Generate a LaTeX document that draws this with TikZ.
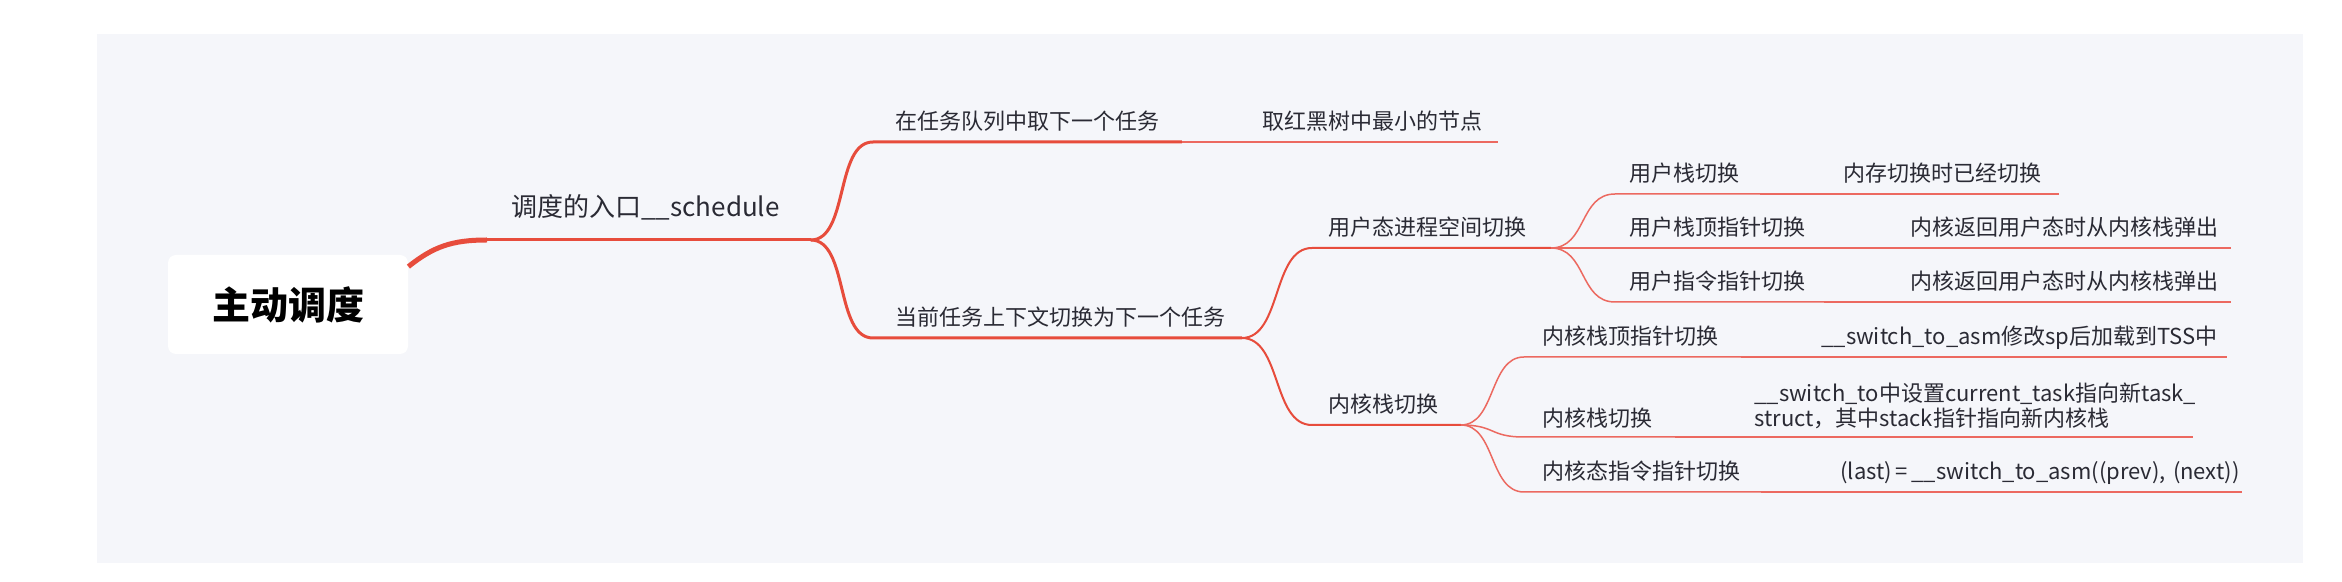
\documentclass[tikz,border=0pt]{standalone}
\usepackage{fontspec}
\setmainfont{Noto Sans CJK SC}[WordSpace=0.7]
\definecolor{mapred}{RGB}{231,76,60}
\definecolor{mapredlight}{RGB}{236,105,96}
\definecolor{mapbg}{RGB}{245,246,250}
\definecolor{maptext}{RGB}{42,42,52}

\begin{document}
\begin{tikzpicture}[
                x=0.5pt, y=-0.5pt,
                topic/.style={anchor=south west, align=left, text=maptext,
                              font=\fontsize{11}{12.5}\selectfont,
                              text height=8pt, text depth=2.5pt, inner ysep=3.3pt},
                line0/.style={draw=mapred, line width=1.5pt},
                line1/.style={draw=mapred, line width=1pt},
                line2/.style={draw=mapredlight, line width=0.75pt}] %

% canvas
\fill[white] (0,0) rectangle (2342,582);
\fill[mapbg] (97,34) rectangle (2303,563);
\useasboundingbox (0,0) rectangle (2342,582);

                    % root
                    \node[fill=white,rounded corners=4pt,minimum width=120pt,minimum height=49.5pt,
                          font=\fontsize{19}{22}\selectfont\bfseries,text=black] (root) at (288,304.5) {主动调度};

                    \node[topic,font=\fontsize{13}{15}\selectfont,inner xsep=12pt,inner ysep=9.1pt,text width=137.5pt] (entry) at (487,240) {调度的入口\_\_schedule};

                    \draw[mapred,line width=2.5pt] ([yshift=-6pt]root.north east) .. controls +(25,-20) and +(-35,0) .. (entry.south west);
                    \draw[line0] (entry.south west) -- (entry.south east);

                    % 1
                    \node[topic,inner xsep=11pt,text width=132pt] (pick) at (873,142) {在任务队列中取下一个任务};
                    \node[topic,inner xsep=7.5pt,text width=110pt] (rbmin) at (1247,142) {取红黑树中最小的节点};

                    \draw[line0] (entry.south east) .. controls +(38,0) and +(-38,0) .. (pick.south west) -- (pick.south east);
                    \draw[line2] (pick.south east) -- (rbmin.south west) -- (rbmin.south east);

                    % 2
                    \node[topic,inner xsep=11pt,text width=162pt] (ctx) at (873,338) {当前任务上下文切换为下一个任务};
                    \draw[line0] (entry.south east) .. controls +(38,0) and +(-38,0) .. (ctx.south west) -- (ctx.south east);

                    \node[topic,inner xsep=8pt,text width=103pt] (user) at (1312,248) {用户态进程空间切换};
                    \node[topic,inner xsep=8pt,text width=58pt] (kstack) at (1312,425) {内核栈切换};

                    \draw[line1] (ctx.south east) .. controls +(40,0) and +(-40,0) .. (user.south west) -- (user.south east);
                    \draw[line1] (ctx.south east) .. controls +(40,0) and +(-40,0) .. (kstack.south west) -- (kstack.south east);

                    % 2a user
                    \node[topic,inner xsep=7pt,text width=58pt] (ustack) at (1615,194) {用户栈切换};
                    \node[topic,inner xsep=7pt,text width=90pt] (usp) at (1615,248) {用户栈顶指针切换};
                    \node[topic,inner xsep=7pt,text width=90pt] (uip) at (1615,302) {用户指令指针切换};

                    \node[topic,inner xsep=7.5pt,text width=100pt] (memsw) at (1828,194) {内存切换时已经切换};
                    \node[topic,inner xsep=5pt,text width=155pt] (retsp) at (1900,248) {内核返回用户态时从内核栈弹出};
                    \node[topic,inner xsep=5pt,text width=155pt] (retip) at (1900,302) {内核返回用户态时从内核栈弹出};

                    \draw[line2] (user.south east) .. controls +(36,0) and +(-36,0) .. (ustack.south west) -- (ustack.south east);
                    \draw[line2] (user.south east) -- (usp.south west) -- (usp.south east);
                    \draw[line2] (user.south east) .. controls +(36,0) and +(-36,0) .. (uip.south west) -- (uip.south east);

                    \draw[line2] (ustack.south east) -- (memsw.south west) -- (memsw.south east);
                    \draw[line2] (usp.south east) -- (retsp.south west) -- (retsp.south east);
                    \draw[line2] (uip.south east) -- (retip.south west) -- (retip.south east);

                    % 2b kernel
                    \node[topic,inner xsep=9pt,text width=90pt] (ksp) at (1524,357) {内核栈顶指针切换};
                    \node[topic,inner xsep=9pt,text width=57pt,inner ysep=2.3pt] (ksw) at (1524,437) {内核栈切换};
                    \node[topic,inner xsep=9pt,text width=100pt] (kip) at (1524,492) {内核态指令指针切换};

                    \node[topic,inner xsep=7.5pt,text width=195pt] (tss) at (1806,357) {\_\_switch\_to\_asm修改sp后加载到TSS中};
                    \node[topic,inner xsep=7pt,text width=212pt,inner ysep=2.3pt,text depth=15pt] (curtask) at (1740,437)
                         {\_\_switch\_to中设置current\_task指向新task\_\\struct，其中stack指针指向新内核栈};
                    \node[topic,inner xsep=7.5pt,text width=193pt] (lastnext) at (1825,492) {(last)\,=\,\_\_switch\_to\_asm((prev),~(next))};

                    \draw[line2] (kstack.south east) .. controls +(35,0) and +(-35,0) .. (ksp.south west) -- (ksp.south east);
                    \draw[line2] (kstack.south east) .. controls +(35,0) and +(-35,0) .. (ksw.south west) -- (ksw.south east);
                    \draw[line2] (kstack.south east) .. controls +(35,0) and +(-35,0) .. (kip.south west) -- (kip.south east);

                    \draw[line2] (ksp.south east) -- (tss.south west) -- (tss.south east);
                    \draw[line2] (ksw.south east) -- (curtask.south west) -- (curtask.south east);
                    \draw[line2] (kip.south east) -- (lastnext.south west) -- (lastnext.south east);

\end{tikzpicture}
\end{document}
